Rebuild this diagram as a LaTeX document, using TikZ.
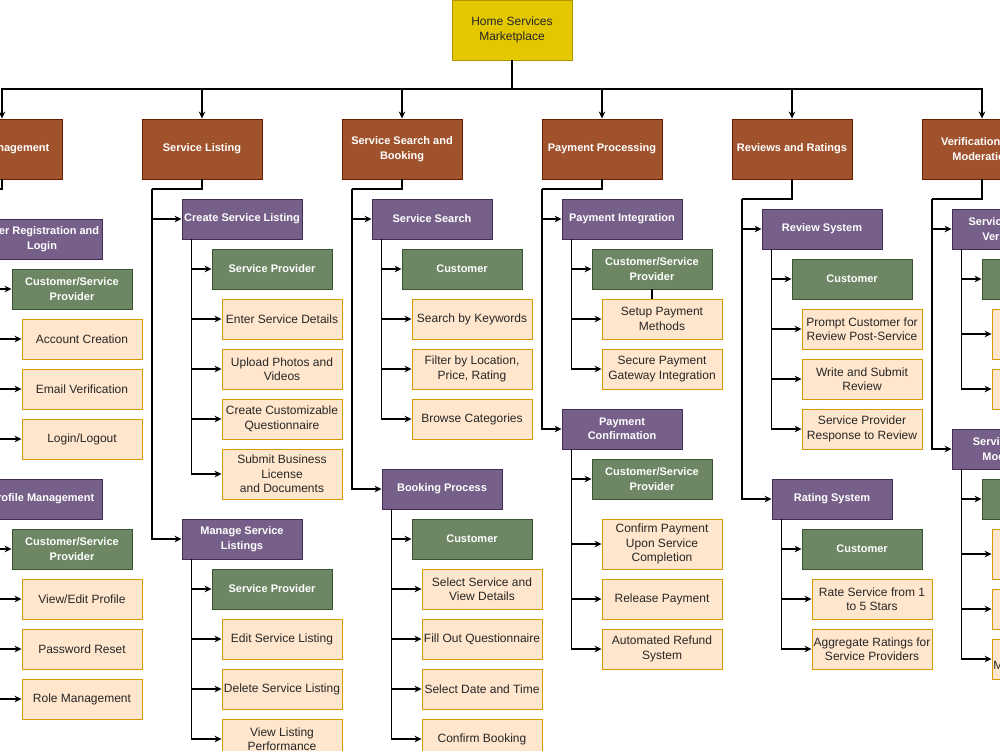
\documentclass[tikz,border=0pt]{standalone}
\usepackage{fontspec}
\setmainfont{Liberation Sans}
\usetikzlibrary{arrows.meta}

\definecolor{rootfill}{HTML}{E3C800}
\definecolor{rootline}{HTML}{B09500}
\definecolor{catfill}{HTML}{A0522D}
\definecolor{catline}{HTML}{6D1F00}
\definecolor{subfill}{HTML}{76608A}
\definecolor{subline}{HTML}{432D57}
\definecolor{rolefill}{HTML}{6D8764}
\definecolor{roleline}{HTML}{3A5431}
\definecolor{taskfill}{HTML}{FFE6CC}
\definecolor{taskline}{HTML}{D79B00}

\begin{document}
\begin{tikzpicture}[x=1pt,y=-1pt,
  box/.style={draw,line width=0.9pt,align=center,inner sep=1pt,minimum width=120pt,minimum height=40pt},
  topbox/.style={box,fill=rootfill,draw=rootline,minimum height=60pt,text=black!85,font=\fontsize{12}{14.5}\selectfont},
  catbox/.style={box,fill=catfill,draw=catline,minimum height=60pt,text=white,font=\fontsize{11}{14.5}\selectfont\bfseries},
  subbox/.style={box,fill=subfill,draw=subline,text=white,font=\fontsize{11}{14.5}\selectfont\bfseries},
  rolebox/.style={box,fill=rolefill,draw=roleline,text=white,font=\fontsize{11}{14.5}\selectfont\bfseries},
  taskbox/.style={box,fill=taskfill,draw=taskline,text=black!85,font=\fontsize{12}{14.5}\selectfont},
  arr/.style={-{Stealth[length=7pt,width=6.5pt]},line width=1.2pt},
  link/.style={line width=1.2pt}]
  \useasboundingbox (0,0) rectangle (1000,750);
  \fill[white] (0,0) rectangle (1000,750);
  \clip (0,0) rectangle (1000,750);

  % root and main areas
  \node[topbox] (root) at (512,30) {Home Services\\Marketplace};
  \node[catbox] (um)  at (2,149)   {User Management};
  \node[catbox] (sl)  at (202,149) {Service Listing};
  \node[catbox] (ssb) at (402,149) {Service Search and\\Booking};
  \node[catbox] (pp)  at (602,149) {Payment Processing};
  \node[catbox] (rr)  at (792,149) {Reviews and Ratings};
  \node[catbox] (vm)  at (982,149) {Verification and\\Moderation};
  \coordinate (bus) at (512,89);
  \foreach \n in {um,sl,ssb,pp,rr,vm}
    \draw[arr] (root.south) |- (bus) -| (\n.north);

  % User Management
  \node[subbox]  (reg)   at (42,239)  {User Registration and\\Login};
  \node[rolebox] (reg-r) at (72,289)  {Customer/Service\\Provider};
  \node[taskbox] (acc)   at (82,339)  {Account Creation};
  \node[taskbox] (mail)  at (82,389)  {Email Verification};
  \node[taskbox] (login) at (82,439)  {Login/Logout};
  \node[subbox]  (prof)  at (42,499)  {Profile Management};
  \node[rolebox] (prof-r) at (72,549) {Customer/Service\\Provider};
  \node[taskbox] (edit)  at (82,599)  {View/Edit Profile};
  \node[taskbox] (pwd)   at (82,649)  {Password Reset};
  \node[taskbox] (role)  at (82,699)  {Role Management};
  \coordinate (um-bus) at (-48,189);
  \draw[link] (um.south) |- (um-bus);
  \draw[arr] (um-bus) |- (reg.west);
  \draw[arr] (um-bus) |- (prof.west);
  \coordinate (reg-bus) at ([xshift=10pt]reg.south west);
  \foreach \n in {reg-r,acc,mail,login}
    \draw[arr] (reg-bus) |- (\n.west);
  \coordinate (prof-bus) at ([xshift=10pt]prof.south west);
  \foreach \n in {prof-r,edit,pwd,role}
    \draw[arr] (prof-bus) |- (\n.west);

  % Service Listing
  \node[subbox]  (csl)   at (242,219) {Create Service Listing};
  \node[rolebox] (csl-r) at (272,269) {Service Provider};
  \node[taskbox] (esd)   at (282,319) {Enter Service Details};
  \node[taskbox] (upv)   at (282,369) {Upload Photos and\\Videos};
  \node[taskbox] (ccq)   at (282,419) {Create Customizable\\Questionnaire};
  \node[taskbox,minimum height=50pt] (sbl) at (282,474) {Submit Business\\License\\and Documents};
  \node[subbox]  (msl)   at (242,539) {Manage Service\\Listings};
  \node[rolebox] (msl-r) at (272,589) {Service Provider};
  \node[taskbox] (edl)   at (282,639) {Edit Service Listing};
  \node[taskbox] (dsl)   at (282,689) {Delete Service Listing};
  \node[taskbox] (vlp)   at (282,739) {View Listing\\Performance};
  \coordinate (sl-bus) at (152,189);
  \draw[link] (sl.south) |- (sl-bus);
  \draw[arr] (sl-bus) |- (csl.west);
  \draw[arr] (sl-bus) |- (msl.west);
  \coordinate (csl-bus) at ([xshift=10pt]csl.south west);
  \foreach \n in {csl-r,esd,upv,ccq,sbl}
    \draw[arr] (csl-bus) |- (\n.west);
  \coordinate (msl-bus) at ([xshift=10pt]msl.south west);
  \foreach \n in {msl-r,edl,dsl,vlp}
    \draw[arr] (msl-bus) |- (\n.west);

  % Service Search and Booking
  \node[subbox]  (srch)   at (432,219) {Service Search};
  \node[rolebox] (srch-r) at (462,269) {Customer};
  \node[taskbox] (kw)     at (472,319) {Search by Keywords};
  \node[taskbox] (flt)    at (472,369) {Filter by Location,\\Price, Rating};
  \node[taskbox] (brw)    at (472,419) {Browse Categories};
  \node[subbox]  (book)   at (442,489) {Booking Process};
  \node[rolebox] (book-r) at (472,539) {Customer};
  \node[taskbox] (svd)    at (482,589) {Select Service and\\View Details};
  \node[taskbox] (foq)    at (482,639) {Fill Out Questionnaire};
  \node[taskbox] (sdt)    at (482,689) {Select Date and Time};
  \node[taskbox] (cfb)    at (482,739) {Confirm Booking};
  \coordinate (ssb-bus) at (352,189);
  \draw[link] (ssb.south) |- (ssb-bus);
  \draw[arr] (ssb-bus) |- (srch.west);
  \draw[arr] (ssb-bus) |- (book.west);
  \coordinate (srch-bus) at ([xshift=10pt]srch.south west);
  \foreach \n in {srch-r,kw,flt,brw}
    \draw[arr] (srch-bus) |- (\n.west);
  \coordinate (book-bus) at ([xshift=10pt]book.south west);
  \foreach \n in {book-r,svd,foq,sdt,cfb}
    \draw[arr] (book-bus) |- (\n.west);

  % Payment Processing
  \node[subbox]  (pint)    at (622,219) {Payment Integration};
  \node[rolebox] (pint-r)  at (652,269) {Customer/Service\\Provider};
  \node[taskbox] (spm)     at (662,319) {Setup Payment\\Methods};
  \node[taskbox] (sgw)     at (662,369) {Secure Payment\\Gateway Integration};
  \node[subbox]  (pconf)   at (622,429) {Payment\\Confirmation};
  \node[rolebox] (pconf-r) at (652,479) {Customer/Service\\Provider};
  \node[taskbox,minimum height=50pt] (cpu) at (662,544) {Confirm Payment\\Upon Service\\Completion};
  \node[taskbox] (rel)     at (662,599) {Release Payment};
  \node[taskbox] (ars)     at (662,649) {Automated Refund\\System};
  \coordinate (pp-bus) at (542,189);
  \draw[link] (pp.south) |- (pp-bus);
  \draw[arr] (pp-bus) |- (pint.west);
  \draw[arr] (pp-bus) |- (pconf.west);
  \coordinate (pint-bus) at ([xshift=10pt]pint.south west);
  \foreach \n in {pint-r,spm,sgw}
    \draw[arr] (pint-bus) |- (\n.west);
  \draw[link] (pint-r.south) -- (pint-r.south |- spm.north);
  \coordinate (pconf-bus) at ([xshift=10pt]pconf.south west);
  \foreach \n in {pconf-r,cpu,rel,ars}
    \draw[arr] (pconf-bus) |- (\n.west);

  % Reviews and Ratings
  \node[subbox]  (revs)   at (822,229) {Review System};
  \node[rolebox] (revs-r) at (852,279) {Customer};
  \node[taskbox] (prm)    at (862,329) {Prompt Customer for\\Review Post-Service};
  \node[taskbox] (wsr)    at (862,379) {Write and Submit\\Review};
  \node[taskbox] (spr)    at (862,429) {Service Provider\\Response to Review};
  \node[subbox]  (rats)   at (832,499) {Rating System};
  \node[rolebox] (rats-r) at (862,549) {Customer};
  \node[taskbox] (r15)    at (872,599) {Rate Service from 1\\to 5 Stars};
  \node[taskbox] (agg)    at (872,649) {Aggregate Ratings for\\Service Providers};
  \coordinate (rr-bus) at (742,199);
  \draw[link] (rr.south) |- (rr-bus);
  \draw[arr] (rr-bus) |- (revs.west);
  \draw[arr] (rr-bus) |- (rats.west);
  \coordinate (revs-bus) at ([xshift=10pt]revs.south west);
  \foreach \n in {revs-r,prm,wsr,spr}
    \draw[arr] (revs-bus) |- (\n.west);
  \coordinate (rats-bus) at ([xshift=10pt]rats.south west);
  \foreach \n in {rats-r,r15,agg}
    \draw[arr] (rats-bus) |- (\n.west);

  % Verification and Moderation
  \node[subbox]  (spv)   at (1012,229) {Service Provider\\Verification};
  \node[rolebox] (spv-r) at (1042,279) {Admin};
  \node[taskbox,minimum height=50pt] (vpl) at (1052,334) {Verify Provider\\License and\\Credentials};
  \node[taskbox] (apr)   at (1052,389) {Approve or\\Reject Provider};
  \node[subbox]  (slm)   at (1012,449) {Service Listing\\Moderation};
  \node[rolebox] (slm-r) at (1042,499) {Admin};
  \node[taskbox,minimum height=50pt] (rnl) at (1052,554) {Review New\\Listings for\\Compliance};
  \node[taskbox] (rpv)   at (1052,609) {Remove Policy\\Violations};
  \node[taskbox] (mur)   at (1052,659) {Resolve Disputes,\\Manage User Reports};
  \coordinate (vm-bus) at (932,199);
  \draw[link] (vm.south) |- (vm-bus);
  \draw[arr] (vm-bus) |- (spv.west);
  \draw[arr] (vm-bus) |- (slm.west);
  \coordinate (spv-bus) at ([xshift=10pt]spv.south west);
  \foreach \n in {spv-r,vpl,apr}
    \draw[arr] (spv-bus) |- (\n.west);
  \coordinate (slm-bus) at ([xshift=10pt]slm.south west);
  \foreach \n in {slm-r,rnl,rpv,mur}
    \draw[arr] (slm-bus) |- (\n.west);
\end{tikzpicture}
\end{document}
